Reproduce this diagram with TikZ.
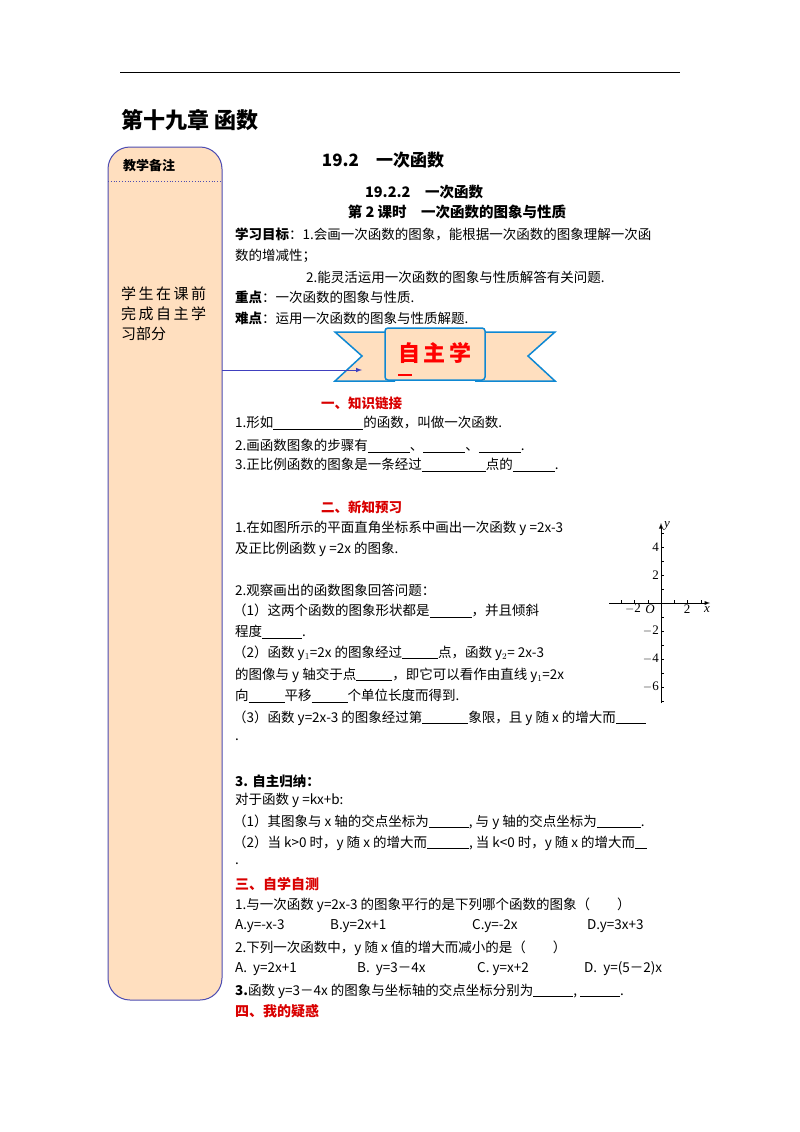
\documentclass[tikz,border=0pt]{standalone}
\usepackage{fontspec}
\setmainfont{Liberation Serif}
\newfontfamily\cjk{Noto Sans CJK SC}
\begin{document}
\begin{tikzpicture}[x=1pt,y=-1pt,
 t/.style={anchor=west,inner sep=0pt,font=\cjk\fontsize{13.5}{15}\selectfont},
 b/.style={t,font=\cjk\bfseries\fontsize{13.5}{15}\selectfont},
 r/.style={b,text=red!85!black},
 h/.style={anchor=center,inner sep=0pt,font=\cjk\bfseries\fontsize{14.5}{17}\selectfont}]
\useasboundingbox (0,0) rectangle (800,1132);
\fill[white] (0,0) rectangle (800,1132);
\draw[line width=0.8pt] (120,72) -- (680,72);
\node[b,font=\cjk\bfseries\fontsize{22}{24}\selectfont] (ch) at (121,120) {第十九章\ 函数};
% side panel
\draw[fill=orange!25!white,draw=blue!40!gray,line width=1pt,rounded corners=22pt] (108,147) rectangle (222,1000);
\draw[blue!40!gray,dotted,line width=0.8pt] (108,181) -- (222,181);
\node[b,font=\cjk\bfseries\fontsize{13}{14}\selectfont] (jb) at (123,166) {教学备注};
\node[t,align=left,font=\cjk\fontsize{15}{20}\selectfont] (xs) at (121,314) {学\,生\,在\,课\,前\\完\,成\,自\,主\,学\\习部分};
% titles
\node[h,font=\cjk\bfseries\fontsize{17}{19}\selectfont] (t1) at (383,160) {19.2\quad 一次函数};
\node[h] (t2) at (424,192) {19.2.2\quad 一次函数};
\node[h] (t3) at (457,212) {第 2 课时\quad 一次函数的图象与性质};
\node[t] (l1) at (235,234) {\textbf{学习目标}：1.会画一次函数的图象，能根据一次函数的图象理解一次函};
\node[t] (l2) at (235,256) {数的增减性；};
\node[t] (l3) at (306,277) {2.能灵活运用一次函数的图象与性质解答有关问题.};
\node[t] (l4) at (235,297) {\textbf{重点}：一次函数的图象与性质.};
\node[t] (l5) at (235,318) {\textbf{难点}：运用一次函数的图象与性质解题.};
% banner
\fill[orange!25!white,draw=cyan!70!blue,line width=1.5pt] (395,332) -- (335,332) -- (362,356) -- (335,381) -- (395,381);
\fill[orange!25!white,draw=cyan!70!blue,line width=1.5pt] (475,332) -- (555,332) -- (528,356) -- (555,381) -- (475,381);
\coordinate (ar) at (362,370);
\draw[blue!50!gray,line width=1pt,-latex] (222,370) -- (ar);
\draw[fill=orange!25!white,draw=cyan!70!blue,line width=1.5pt,rounded corners=3pt] (385,328) rectangle (485,380);
\node[h,text=red,font=\cjk\bfseries\fontsize{22}{24}\selectfont] (zz) at (435,353) {自\,主\,学};
\draw[red,line width=1.2pt] (398,375) -- (412,375);
% section 1
\node[r] (s1) at (321,403) {一、知识链接};
\node[t] (a1) at (235,423) {1.形如\underline{\hspace{90pt}}的函数，叫做一次函数.};
\node[t] (a2) at (235,446) {2.画函数图象的步骤有\underline{\hspace{42pt}}、\underline{\hspace{42pt}}、\underline{\hspace{42pt}}.};
\node[t] (a3) at (235,465) {3.正比例函数的图象是一条经过\underline{\hspace{64pt}}点的\underline{\hspace{42pt}}.};
\node[r] (s2) at (321,507) {二、新知预习};
\node[t] (b1) at (235,528) {1.在如图所示的平面直角坐标系中画出一次函数 y\ =2x-3};
\node[t] (b2) at (235,549) {及正比例函数 y\ =2x 的图象.};
\node[t] (b3) at (235,590) {2.观察画出的函数图象回答问题：};
\node[t] (b4) at (233,611) {（1）这两个函数的图象形状都是\underline{\hspace{42pt}}，并且倾斜};
\node[t] (b5) at (235,632) {程度\underline{\hspace{40pt}}.};
\node[t] (b6) at (233,653) {（2）函数 y$_1$=2x 的图象经过\underline{\hspace{36pt}}点，函数 y$_2$= 2x-3};
\node[t] (b7) at (235,675) {的图像与 y 轴交于点\underline{\hspace{36pt}}，即它可以看作由直线 y$_1$=2x};
\node[t] (b8) at (235,696) {向\underline{\hspace{36pt}}平移\underline{\hspace{36pt}}个单位长度而得到.};
\node[t] (b9) at (233,718) {（3）函数 y=2x-3 的图象经过第\underline{\hspace{46pt}}象限，且 y 随 x 的增大而\underline{\hspace{30pt}}};
\node[t] (b10) at (235,740) {.};
\node[b] (c0) at (235,781) {3. 自主归纳：};
\node[t] (c1) at (235,800) {对于函数 y\ =kx+b:};
\node[t] (c2) at (233,822) {（1）其图象与 x 轴的交点坐标为\underline{\hspace{40pt}}, 与 y 轴的交点坐标为\underline{\hspace{44pt}}.};
\node[t] (c3) at (233,843) {（2）当 k>0 时，y 随 x 的增大而\underline{\hspace{42pt}}, 当 k<0 时，y 随 x 的增大而\underline{\hspace{12pt}}};
\node[t] (c4) at (235,864) {.};
\node[r,font=\cjk\bfseries\fontsize{14}{15}\selectfont] (s3) at (235,884) {三、自学自测};
\node[t] (d1) at (235,905) {1.与一次函数 y=2x-3 的图象平行的是下列哪个函数的图象（\qquad）};
\node[t] (d2) at (235,926) {A.y=-x-3};
\node[t] (d3) at (330,926) {B.y=2x+1};
\node[t] (d4) at (472,926) {C.y=-2x};
\node[t] (d5) at (587,926) {D.y=3x+3};
\node[t] (d6) at (235,948) {2.下列一次函数中，y 随 x 值的增大而减小的是（\qquad）};
\node[t] (d7) at (235,969) {A.\ \ y=2x+1};
\node[t] (d8) at (357,969) {B.\ \ y=3－4x};
\node[t] (d9) at (477,969) {C. y=x+2};
\node[t] (d10) at (584,969) {D.\ \ y=(5－2)x};
\node[t] (d11) at (235,991) {\textbf{3.}函数 y=3－4x 的图象与坐标轴的交点坐标分别为\underline{\hspace{40pt}}, \underline{\hspace{40pt}}.};
\node[r,font=\cjk\bfseries\fontsize{14}{15}\selectfont] (s4) at (235,1011) {四、我的疑惑};
% axes
\coordinate (xe) at (710,603);
\coordinate (xs) at (609,603);
\coordinate (ye) at (661,523);
\coordinate (ys) at (661,703);
\draw[line width=0.9pt,-latex] (xs) -- (xe);
\draw[line width=0.9pt,-latex] (ys) -- (ye);
\foreach \i in {-3,-2,-1,1,2,3} \draw (661+13.3*\i,603) -- (661+13.3*\i,600);
\foreach \j in {-7,...,-1,1,2,3,4,5} \draw (661,603-14*\j) -- (664,603-14*\j);
\begin{scope}[font=\fontsize{13}{15}\selectfont,inner sep=0pt]
\node (ny) at (667,526) {\textit{y}};
\node (nx) at (707,610) {\textit{x}};
\node (nO) at (650,609) {\textit{O}};
\node (n1) at (633,609) {$-$2};
\node (n2) at (687,609) {2};
\foreach \j/\l in {4/4,2/2,-2/$-$2,-4/$-$4,-6/$-$6} \node[anchor=east] at (659,603-14*\j) {\l};
\end{scope}
\end{tikzpicture}
\end{document}
